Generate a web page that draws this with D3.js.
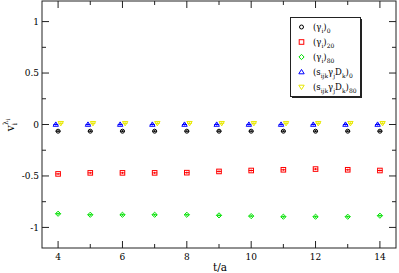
<!DOCTYPE html>
<html><head><meta charset="utf-8">
<script src="https://cdn.jsdelivr.net/npm/d3@7"></script>
<style>body{margin:0;background:#fff}svg{display:block}</style>
</head><body><svg id="c" width="399" height="273" font-family="'DejaVu Serif', serif"></svg>
<script>
const tValues = [4,5,6,7,8,9,10,11,12,13,14];
const gamma0  = [-0.065,-0.065,-0.065,-0.065,-0.065,-0.065,-0.065,-0.065,-0.065,-0.065,-0.065];
const gamma20 = [-0.48,-0.47,-0.47,-0.47,-0.468,-0.456,-0.447,-0.44,-0.433,-0.44,-0.447];
const gamma80 = [-0.867,-0.877,-0.877,-0.877,-0.877,-0.883,-0.89,-0.896,-0.896,-0.896,-0.886];
const sgd0    = [0.0,0.0,0.0,0.0,0.0,0.0,0.0,0.0,0.0,0.0,0.0];
const sgd80   = [0.012,0.012,0.012,0.012,0.012,0.012,0.012,0.012,0.012,0.012,0.012];
const xTicks = [4,6,8,10,12,14];
const yTicks = [-1,-0.5,0,0.5,1];

const W=399,H=273, L=42,R=396,T=1,B=248;
const x=d3.scaleLinear().domain([3.5,14.5]).range([L,R]);
const y=d3.scaleLinear().domain([-1.2,1.2]).range([B,T]);
const svg=d3.select("#c");

const series=[
 {vals:gamma0, color:"#000", sym:"circle", dx:0},
 {vals:gamma20,color:"#ff0000", sym:"square", dx:0},
 {vals:gamma80,color:"#00e000", sym:"diamond", dx:0},
 {vals:sgd0,   color:"#0000ff", sym:"up", dx:-2.3},
 {vals:sgd80,  color:"#e8e800", sym:"down", dx:2.7}
];
function sym(g,s,cx,cy,c){
  if(s==="circle") g.append("circle").attr("cx",cx).attr("cy",cy).attr("r",2).attr("fill","none").attr("stroke",c).attr("stroke-width",1);
  else if(s==="square") g.append("rect").attr("x",cx-2.3).attr("y",cy-2.3).attr("width",4.6).attr("height",4.6).attr("fill","none").attr("stroke",c).attr("stroke-width",1);
  else if(s==="diamond") g.append("path").attr("d",`M${cx},${cy-2.6}L${cx+2.6},${cy}L${cx},${cy+2.6}L${cx-2.6},${cy}Z`).attr("fill","none").attr("stroke",c).attr("stroke-width",1);
  else if(s==="up") g.append("path").attr("d",`M${cx},${cy-2.6}L${cx+2.7},${cy+1.8}L${cx-2.7},${cy+1.8}Z`).attr("fill","none").attr("stroke",c).attr("stroke-width",1);
  else g.append("path").attr("d",`M${cx},${cy+2.6}L${cx+2.7},${cy-1.8}L${cx-2.7},${cy-1.8}Z`).attr("fill","none").attr("stroke",c).attr("stroke-width",1);
}

// data
const gd=svg.append("g");
series.forEach(s=>{
  s.vals.forEach((v,i)=>{
    const cx=x(tValues[i])+s.dx, cy=y(v);
    gd.append("line").attr("x1",cx-2.5).attr("x2",cx+2.5).attr("y1",cy).attr("y2",cy).attr("stroke",s.color).attr("stroke-width",1);
    gd.append("line").attr("x1",cx).attr("x2",cx).attr("y1",cy-1).attr("y2",cy+1).attr("stroke",s.color).attr("stroke-width",1);
    sym(gd,s.sym,cx,cy,s.color);
  });
});

// frame & ticks
const ax=svg.append("g").attr("stroke","#222").attr("stroke-width",1);
ax.append("rect").attr("x",L).attr("y",T).attr("width",R-L).attr("height",B-T).attr("fill","none");
d3.range(4,15).forEach(t=>{
  const len = t%2===0?7:4;
  ax.append("line").attr("x1",x(t)).attr("x2",x(t)).attr("y1",B).attr("y2",B-len);
  ax.append("line").attr("x1",x(t)).attr("x2",x(t)).attr("y1",T).attr("y2",T+len);
});
d3.range(-1,1.01,0.25).forEach(v=>{
  const major=Math.abs(v*2-Math.round(v*2))<1e-6;
  const len=major?7:4;
  ax.append("line").attr("x1",L).attr("x2",L+len).attr("y1",y(v)).attr("y2",y(v));
  ax.append("line").attr("x1",R).attr("x2",R-len).attr("y1",y(v)).attr("y2",y(v));
});
xTicks.forEach(t=>svg.append("text").attr("x",x(t)).attr("y",260).attr("text-anchor","middle").attr("font-size",9).text(t));
yTicks.forEach(v=>svg.append("text").attr("x",39).attr("y",y(v)+3.3).attr("text-anchor","end").attr("font-size",9).text(v));

svg.append("text").attr("x",220).attr("y",271).attr("text-anchor","middle").attr("font-size",10.5).text("t/a");
const yl=svg.append("text").attr("transform","translate(14,125) rotate(-90)").attr("text-anchor","middle").attr("font-size",10.5);
yl.append("tspan").text("v");
yl.append("tspan").attr("font-size",7).attr("dy",3).text("i");
yl.append("tspan").attr("font-size",7).attr("dy",-9).attr("dx",-2).text("λ");
yl.append("tspan").attr("font-size",5.5).attr("dy",2).text("i");

// legend
const lg=svg.append("g");
lg.append("rect").attr("x",292).attr("y",19).attr("width",70).attr("height",79).attr("fill","#222");
lg.append("rect").attr("x",290.5).attr("y",17.5).attr("width",70).attr("height",79).attr("fill","#fff").attr("stroke","#222");
const labels=[
 [["(γ",0],["i",1],[")",0],["0",1]],
 [["(γ",0],["i",1],[")",0],["20",1]],
 [["(γ",0],["i",1],[")",0],["80",1]],
 [["(s",0],["ijk",1],["γ",0],["j",1],["D",0],["k",1],[")",0],["0",1]],
 [["(s",0],["ijk",1],["γ",0],["j",1],["D",0],["k",1],[")",0],["80",1]]
];
const rows=[27,42,57,72,87];
series.forEach((s,i)=>{
  sym(lg,s.sym,301.5,rows[i],s.color);
  const t=lg.append("text").attr("x",313).attr("y",rows[i]+3).attr("font-size",8.5);
  let sub=false;
  labels[i].forEach(([txt,isSub])=>{
    const sp=t.append("tspan").text(txt).attr("font-size",isSub?6:8.5);
    if(isSub && !sub) sp.attr("dy",3);
    if(!isSub && sub) sp.attr("dy",-3);
    sub=!!isSub;
  });
});
</script></body></html>
